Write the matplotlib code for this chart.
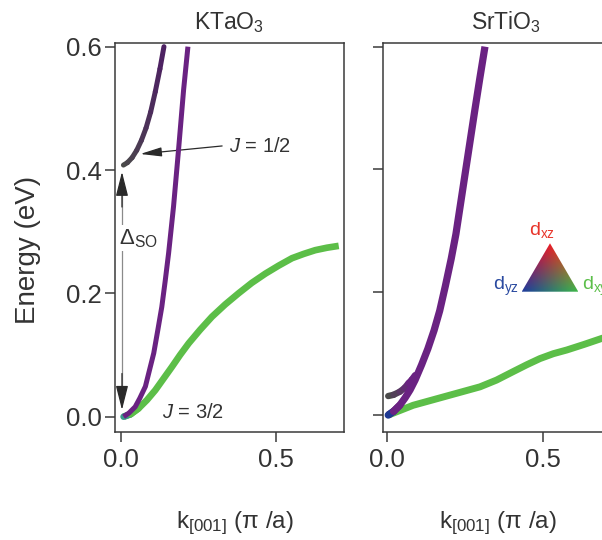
import numpy as np
import matplotlib
matplotlib.use("Agg")
import matplotlib.pyplot as plt
from matplotlib.collections import LineCollection
from matplotlib.patches import Polygon
from matplotlib.colors import to_rgb

plt.rcParams['font.family'] = ['Liberation Sans', 'DejaVu Sans']
plt.rcParams['mathtext.fontset'] = 'custom'
plt.rcParams['mathtext.rm'] = 'Liberation Sans'
plt.rcParams['mathtext.it'] = 'Liberation Sans:italic'
plt.rcParams['mathtext.bf'] = 'Liberation Sans:bold'
plt.rcParams['mathtext.default'] = 'regular'

# ---------------- data ----------------
panel_titles = ['KTaO$_3$', 'SrTiO$_3$']
y_ticks = [0.0, 0.2, 0.4, 0.6]
x_ticks = [0.0, 0.5]

# KTaO3
kta_so_k = [0.007, 0.02, 0.035, 0.05, 0.065, 0.08, 0.095, 0.11, 0.125, 0.138]
kta_so_E = [0.408, 0.412, 0.420, 0.432, 0.448, 0.468, 0.494, 0.527, 0.564, 0.600]

kta_hh_k = [0.0075, 0.025, 0.045, 0.06, 0.078, 0.09, 0.105, 0.118, 0.131,
            0.142, 0.153, 0.169, 0.185, 0.2015, 0.2155]
kta_hh_E = [0.0, 0.006, 0.016, 0.03, 0.049, 0.073, 0.103, 0.14, 0.178,
            0.22, 0.265, 0.341, 0.432, 0.53, 0.6]

kta_lh_k = [0.0075, 0.03, 0.056, 0.083, 0.11, 0.137, 0.164, 0.19, 0.218, 0.255,
            0.293, 0.336, 0.379, 0.422, 0.466, 0.509, 0.552, 0.59, 0.627, 0.665, 0.703]
kta_lh_E = [0.0, 0.004, 0.0135, 0.027, 0.043, 0.062, 0.081, 0.100, 0.119, 0.141,
            0.162, 0.182, 0.200, 0.217, 0.232, 0.245, 0.257, 0.264, 0.270, 0.274, 0.277]

# SrTiO3
sto_hh_k = [0.003, 0.02, 0.04, 0.057, 0.073, 0.089, 0.11, 0.13, 0.15, 0.168,
            0.186, 0.205, 0.22, 0.235, 0.25, 0.265, 0.28, 0.297, 0.313]
sto_hh_E = [0.0, 0.006, 0.016, 0.028, 0.041, 0.057, 0.082, 0.108, 0.138, 0.17,
            0.21, 0.255, 0.295, 0.345, 0.395, 0.445, 0.495, 0.55, 0.6]

sto_so_k = [0.003, 0.02, 0.04, 0.055, 0.068, 0.079, 0.089]
sto_so_E = [0.031, 0.033, 0.038, 0.044, 0.052, 0.058, 0.065]

sto_lh_k = [0.003, 0.083, 0.19, 0.297, 0.35, 0.404, 0.447, 0.489, 0.532,
            0.575, 0.63, 0.688, 0.715]
sto_lh_E = [0.0, 0.016, 0.031, 0.046, 0.057, 0.071, 0.082, 0.092, 0.1,
            0.106, 0.115, 0.125, 0.129]

# ---------------- style ----------------
TXT = '#333333'
PURPLE = '#6a2282'
GREEN = '#5cbe48'
GRAY = '#4a4a4a'
DARKPURPLE = '#4d2262'
BLUE = '#1f3a93'


def grad_line(ax, k, E, c0, c1, lw, frac=1.0, z=5):
    k = np.asarray(k, float)
    E = np.asarray(E, float)
    pts = np.column_stack([k, E]).reshape(-1, 1, 2)
    segs = np.concatenate([pts[:-1], pts[1:]], axis=1)
    n = len(segs)
    t = np.clip(np.arange(n) / max(n - 1, 1) / frac, 0, 1)
    a = np.array(to_rgb(c0))
    b = np.array(to_rgb(c1))
    cols = [(1 - ti) * a + ti * b for ti in t]
    lc = LineCollection(segs, colors=cols, linewidths=lw, capstyle='round',
                        joinstyle='round', zorder=z)
    ax.add_collection(lc)


fig = plt.figure(figsize=(6.02, 5.40), dpi=100)
axL = fig.add_axes([0.1905, 0.2006, 0.3804, 0.7204])
axR = fig.add_axes([0.6357, 0.2006, 0.3804, 0.7204])

for ax in (axL, axR):
    for s in ax.spines.values():
        s.set_color('#3a3a3a')
        s.set_linewidth(1.1)
    ax.set_yticks(y_ticks)
    ax.set_xticks(x_ticks)
    ax.set_yticklabels(['%.1f' % v for v in y_ticks])
    ax.set_xticklabels(['%.1f' % v for v in x_ticks])
    ax.tick_params(direction='out', length=7, width=1.1, color='#3a3a3a',
                   labelcolor=TXT, labelsize=18.5)
    ax.tick_params(axis='x', pad=5)
    ax.tick_params(axis='y', pad=2.2)

axL.set_xlim(-0.0213, 0.719)
axL.set_ylim(-0.0243, 0.6065)
axR.set_xlim(-0.0147, 0.719)
axR.set_ylim(-0.027, 0.6065)
axR.tick_params(labelleft=False)

axL.set_title(panel_titles[0], fontsize=16.5, color=TXT, pad=9.5)
axR.set_title(panel_titles[1], fontsize=16.5, color=TXT, pad=9.5, x=0.538)

# ---- KTaO3 bands ----
axL.plot(kta_lh_k, kta_lh_E, color=GREEN, lw=4.8, solid_capstyle='butt',
         solid_joinstyle='round', zorder=3)
grad_line(axL, kta_lh_k[:3], kta_lh_E[:3], '#3a9a8a', GREEN, 4.8, z=3)
axL.plot(kta_hh_k, kta_hh_E, color=PURPLE, lw=3.6, solid_capstyle='butt',
         solid_joinstyle='round', zorder=4)
grad_line(axL, kta_so_k, kta_so_E, GRAY, DARKPURPLE, 3.6)

# ---- SrTiO3 bands ----
axR.plot(sto_lh_k, sto_lh_E, color=GREEN, lw=5.0, solid_capstyle='butt',
         solid_joinstyle='round', zorder=3)
grad_line(axR, sto_so_k, sto_so_E, GRAY, PURPLE, 4.6, frac=0.8, z=4)
axR.plot(sto_hh_k, sto_hh_E, color=PURPLE, lw=5.2, solid_capstyle='butt',
         solid_joinstyle='round', zorder=4)
grad_line(axR, sto_hh_k[:3], sto_hh_E[:3], BLUE, PURPLE, 5.2)

# ---- annotations (KTaO3) ----
axL.text(0.347, 0.4297, r'$\mathit{J}$ = 1/2', fontsize=14.5, color=TXT,
         ha='left', va='baseline')
axL.annotate('', xy=(0.0615, 0.426), xytext=(0.326, 0.439),
             arrowprops=dict(arrowstyle='-|>,head_length=1.3,head_width=0.28',
                             color='#2a2a2a', lw=0.9, shrinkA=0, shrinkB=0))
axL.text(0.1315, -0.0026, r'$\mathit{J}$ = 3/2', fontsize=14.5, color=TXT,
         ha='left', va='baseline', zorder=6)

kx = 0.0023
axL.plot([kx, kx], [0.03, 0.37], color='#8a8a8a', lw=0.9, zorder=2)
axL.annotate('', xy=(kx, 0.397), xytext=(kx, 0.34),
             arrowprops=dict(arrowstyle='-|>,head_length=1.5,head_width=0.38',
                             color='#2a2a2a', lw=0.9, shrinkA=0, shrinkB=0))
axL.annotate('', xy=(kx, 0.011), xytext=(kx, 0.07),
             arrowprops=dict(arrowstyle='-|>,head_length=1.5,head_width=0.38',
                             color='#2a2a2a', lw=0.9, shrinkA=0, shrinkB=0))
axL.text(-0.0065, 0.280, r'$\Delta_{SO}$', fontsize=16, color=TXT,
         ha='left', va='baseline', zorder=7,
         bbox=dict(boxstyle='square,pad=0.08', fc='white', ec='none'))

# ---- axis labels ----
fig.text(28.5 / 602, 1 - 250 / 540, 'Energy (eV)', rotation=90, ha='center',
         va='center', fontsize=20, color=TXT)
fig.text(235 / 602, 1 - 523 / 540, 'k$_{[001]}$ (π /a)', ha='center',
         va='center', fontsize=17.5, color=TXT)
fig.text(497.5 / 602, 1 - 523 / 540, 'k$_{[001]}$ (π /a)', ha='center',
         va='center', fontsize=17.5, color=TXT)

# ---- orbital colour triangle ----
tax = fig.add_axes([521.7 / 602, (540 - 291.7) / 540, 56.6 / 602, 48.4 / 540])
tax.set_xlim(0, 1)
tax.set_ylim(0, 1)
tax.axis('off')
N = 200
yy, xx = np.mgrid[0:1:N * 1j, 0:1:N * 1j]
w_r = yy
w_g = np.clip(xx - 0.5 * yy, 0, 1)
w_b = np.clip(1 - xx - 0.5 * yy, 0, 1)
cr = np.array(to_rgb('#ee1c24'))
cb = np.array(to_rgb('#1c3c9e'))
cg = np.array(to_rgb('#3cba48'))
img = (w_r[..., None] * cr + w_g[..., None] * cg + w_b[..., None] * cb)
img = np.clip(img / np.maximum((w_r + w_g + w_b)[..., None], 1e-6), 0, 1)
im = tax.imshow(img, origin='lower', extent=[0, 1, 0, 1], aspect='auto',
                interpolation='bilinear')
tri = Polygon([[0, 0], [1, 0], [0.5, 1]], closed=True, transform=tax.transData,
              fc='none', ec='none')
tax.add_patch(tri)
im.set_clip_path(tri)

fig.text(542 / 602, 1 - 235 / 540, 'd$_{xz}$', ha='center', va='baseline',
         fontsize=14, color='#e8352b')
fig.text(519 / 602, 1 - 290 / 540, 'd$_{yz}$', ha='right', va='baseline',
         fontsize=14, color='#2a4aa0')
fig.text(581.7 / 602, 1 - 290 / 540, 'd$_{xy}$', ha='left', va='baseline',
         fontsize=14, color='#5cbf4a')

fig.savefig('out.png', dpi=100)
